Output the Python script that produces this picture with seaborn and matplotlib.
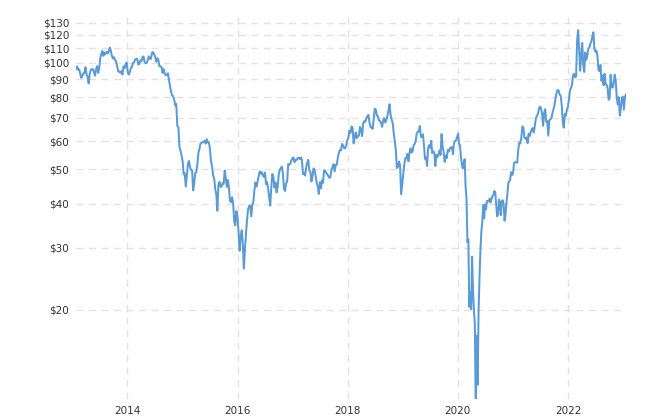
import matplotlib
matplotlib.use('Agg')
import matplotlib.pyplot as plt
import matplotlib.ticker as mticker
import pandas as pd
import seaborn as sns

# WTI crude oil, weekly closes (USD/bbl)
p2013 = [95.9, 97.8, 95.7, 95.9, 93.1, 90.7, 91.9, 93.5, 93.7, 97.2, 92.7, 91.3, 87.5,
         93.0, 95.6, 96.0, 96.0, 94.2, 92.0, 96.0, 97.9, 93.7, 96.6, 103.2, 106.0, 108.1,
         104.7, 106.9, 106.0, 107.5, 106.4, 107.7, 110.5, 108.2, 104.7, 102.9, 103.8, 102.0,
         100.8, 97.9, 94.6, 94.6, 93.8, 94.8, 92.7, 97.7, 96.6, 99.3, 100.3]
p2014 = [94.0, 92.7, 94.4, 96.6, 97.5, 99.9, 100.3, 102.2, 102.6, 102.6, 98.9, 99.5, 101.7,
         101.1, 103.7, 104.3, 100.6, 99.8, 100.0, 102.0, 104.4, 102.7, 102.7, 106.9, 107.3,
         105.7, 104.1, 100.8, 103.1, 102.1, 97.9, 97.7, 97.4, 93.7, 96.0, 93.3, 92.3, 92.4,
         93.5, 89.7, 85.8, 82.8, 81.0, 80.5, 78.7, 75.8, 76.5, 66.2, 65.8, 57.8, 56.5, 54.7]
p2015 = [52.7, 48.4, 48.7, 44.7, 48.2, 51.7, 52.8, 50.8, 49.8, 49.6, 43.6, 45.7, 48.9,
         49.1, 51.6, 55.7, 57.2, 59.2, 59.4, 59.7, 59.7, 60.3, 59.1, 60.8, 59.6, 59.6, 56.9,
         52.7, 50.9, 48.1, 47.1, 43.9, 42.5, 38.2, 45.2, 46.1, 44.6, 44.7, 45.7, 45.5, 49.6,
         47.3, 44.6, 46.6, 44.3, 40.7, 40.4, 41.7, 40.0, 35.6, 34.7, 38.1, 37.0]
p2016 = [33.2, 29.4, 32.2, 33.6, 30.9, 26.2, 29.6, 32.8, 35.9, 38.5, 39.4, 39.5, 36.8,
         39.7, 40.4, 43.7, 45.9, 44.7, 46.2, 47.8, 49.3, 48.6, 49.1, 48.0, 47.6, 49.0, 45.4,
         46.0, 44.2, 41.6, 39.5, 44.5, 48.5, 47.6, 44.4, 45.9, 43.0, 44.5, 48.2, 49.8, 50.4,
         50.9, 48.7, 44.1, 43.4, 45.7, 46.1, 51.7, 51.5, 51.9, 53.0, 53.7]
p2017 = [54.0, 52.4, 53.2, 53.2, 53.8, 53.9, 53.4, 54.0, 53.3, 48.5, 48.8, 48.0, 50.6,
         52.2, 53.2, 49.6, 49.3, 46.2, 47.8, 50.3, 49.8, 47.7, 45.8, 44.7, 42.6, 46.0, 44.2,
         46.5, 45.8, 49.7, 49.6, 48.8, 48.5, 47.9, 47.3, 47.5, 49.9, 50.7, 51.7, 49.3, 51.5,
         51.5, 53.9, 55.6, 56.7, 56.6, 59.0, 58.4, 57.4, 57.3, 58.5, 60.4]
p2018 = [61.4, 64.3, 63.4, 66.1, 65.5, 59.2, 61.7, 63.6, 61.3, 62.0, 62.3, 65.9, 64.9,
         62.1, 67.4, 68.4, 68.1, 69.7, 70.7, 71.3, 67.9, 65.8, 65.7, 65.1, 69.3, 74.2, 73.8,
         71.0, 70.5, 68.7, 68.5, 67.6, 65.9, 68.7, 69.8, 67.8, 69.0, 70.8, 73.3, 76.4, 71.3,
         69.1, 67.6, 63.1, 60.2, 56.5, 50.4, 50.9, 52.6, 51.2, 42.5, 45.3]
p2019 = [48.0, 51.6, 53.8, 53.7, 55.3, 52.7, 55.6, 57.3, 55.8, 56.1, 58.5, 59.0, 60.1,
         63.1, 63.9, 64.0, 66.3, 61.9, 61.7, 62.8, 58.6, 53.5, 54.0, 51.1, 57.4, 58.5, 57.5,
         60.2, 55.6, 56.2, 55.7, 51.1, 54.9, 54.2, 55.1, 56.5, 54.9, 62.9, 58.1, 55.9, 52.5,
         54.7, 53.8, 56.7, 56.2, 57.2, 57.7, 57.8, 55.2, 59.2, 60.1, 60.4, 61.7]
p2020 = [63.1, 59.0, 58.5, 54.2, 51.6, 50.3, 52.1, 53.4, 44.8, 41.3, 31.1, 31.7, 20.4,
         22.4, 20.1, 28.3, 22.8, 19.9, 18.3, 10.0, 16.9, 12.3, 19.8, 24.7, 29.4, 33.3, 35.5,
         39.6, 36.3, 39.8, 38.5, 40.7, 40.6, 40.6, 41.3, 40.3, 41.2, 42.0, 42.3, 43.4, 43.0,
         39.8, 36.8, 37.3, 41.1, 40.3, 37.1, 40.6, 40.9, 39.9, 35.8, 37.1, 40.1, 42.4, 45.5,
         46.3, 46.6, 49.1, 48.2, 48.5]
p2021 = [52.2, 52.4, 52.3, 52.2, 56.9, 59.5, 59.2, 61.5, 66.1, 65.6, 61.4, 61.0, 61.5,
         59.3, 63.1, 62.1, 63.6, 64.9, 65.4, 63.6, 66.3, 69.6, 70.9, 71.6, 74.1, 75.2, 74.6,
         71.8, 66.4, 72.1, 74.0, 68.3, 68.4, 62.3, 68.7, 69.3, 69.7, 72.0, 74.0, 75.9, 79.4,
         82.3, 83.8, 83.6, 81.3, 80.8, 76.1, 68.2, 65.6, 71.7, 70.9, 73.8, 75.2]
p2022 = [78.9, 83.8, 85.1, 86.8, 92.3, 93.1, 91.1, 91.6, 115.7, 123.7, 109.3, 95.0, 104.7,
         113.9, 99.3, 94.3, 107.0, 102.1, 104.7, 109.8, 110.5, 113.2, 115.1, 118.9, 122.1,
         109.6, 107.6, 108.4, 104.8, 95.8, 94.7, 98.6, 89.0, 92.1, 86.5, 93.1, 86.9, 86.8,
         85.1, 78.7, 79.5, 92.6, 85.6, 85.1, 87.9, 92.6, 89.0, 80.1, 76.3, 80.0, 71.0, 74.3,
         79.6, 80.3]
p2023 = [73.8, 79.9, 81.6]

segments = [
    ('2013-01-25', '2013-12-27', p2013),
    ('2014-01-03', '2014-12-26', p2014),
    ('2015-01-02', '2015-12-31', p2015),
    ('2016-01-08', '2016-12-30', p2016),
    ('2017-01-06', '2017-12-29', p2017),
    ('2018-01-05', '2018-12-28', p2018),
    ('2019-01-04', '2019-12-27', p2019),
    ('2020-01-03', '2020-12-31', p2020),
    ('2021-01-08', '2021-12-31', p2021),
    ('2022-01-07', '2022-12-30', p2022),
    ('2023-01-06', '2023-01-20', p2023),
]

price_ticks = [20, 30, 40, 50, 60, 70, 80, 90, 100, 110, 120, 130]
year_ticks = [2014, 2016, 2018, 2020, 2022]

frames = []
for start, end, vals in segments:
    frames.append(pd.DataFrame({'date': pd.date_range(start, end, periods=len(vals)),
                                'price': vals}))
df = pd.concat(frames, ignore_index=True)

sns.set_style('white')
plt.rcParams['font.family'] = ['DejaVu Sans']

fig = plt.figure(figsize=(6.66, 4.2), dpi=100)
ax = fig.add_axes([76 / 666, 1 - 399 / 420, 550 / 666, (399 - 12.7) / 420])

sns.lineplot(data=df, x='date', y='price', ax=ax, color='#5b9bd5', linewidth=1.45)

ax.set_yscale('log')
ax.set_ylim(11.2, 138.7)
ax.set_xlim(df['date'].iloc[0], df['date'].iloc[-1])

ax.yaxis.set_major_locator(mticker.FixedLocator(price_ticks))
ax.yaxis.set_major_formatter(mticker.FuncFormatter(lambda v, p: f'${v:.0f}'))
ax.yaxis.set_minor_locator(mticker.NullLocator())
ax.set_xticks([pd.Timestamp(f'{y}-01-01') for y in year_ticks])
ax.set_xticklabels([str(y) for y in year_ticks])

ax.grid(True, which='major', color='#e2e2e2', linestyle=(0, (5, 4)), linewidth=1)
ax.set_axisbelow(True)
for s in ax.spines.values():
    s.set_visible(False)
ax.tick_params(axis='both', length=0, labelsize=7.5, colors='#333333')
ax.tick_params(axis='y', pad=5)
ax.tick_params(axis='x', pad=5)
ax.set_xlabel('')
ax.set_ylabel('')

fig.savefig('out.png', dpi=100)
